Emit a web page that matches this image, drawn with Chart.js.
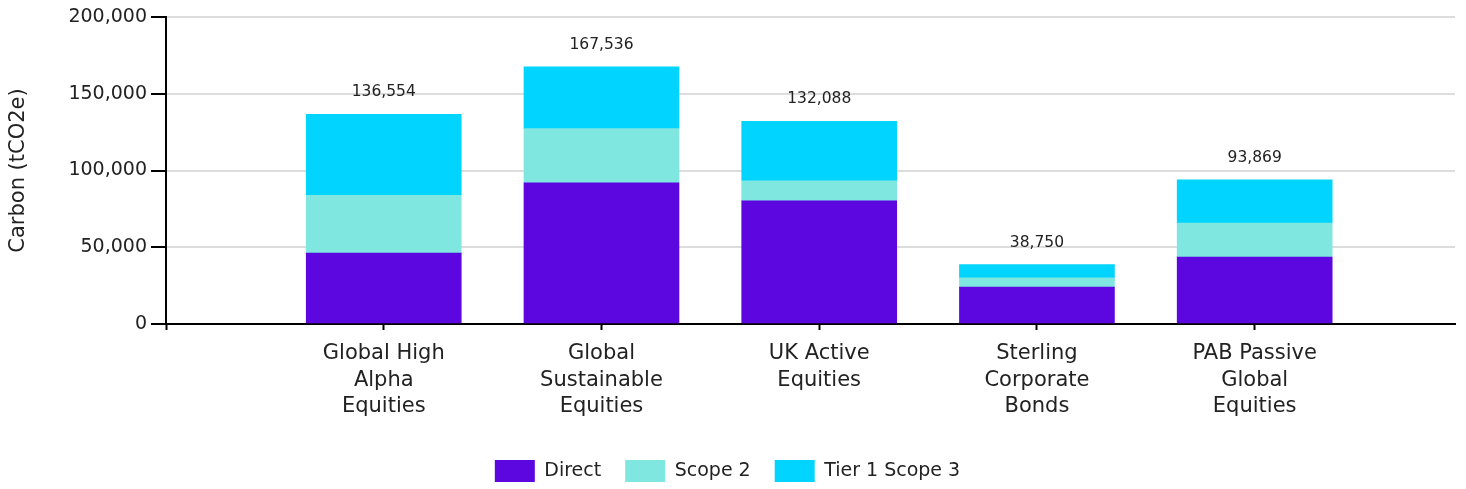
<!DOCTYPE html>
<html>
<head>
<meta charset="utf-8">
<script src="https://cdn.jsdelivr.net/npm/chart.js@4.4.1/dist/chart.umd.min.js"></script>
<style>
  html, body { margin: 0; padding: 0; background: #fff; }
  #wrap { width: 1466px; height: 489px; }
</style>
</head>
<body>
<div id="wrap"><canvas id="carbonChart"></canvas></div>
<script>
// Carbon footprint per fund, stacked by scope

var funds = [
    ["Global High", "Alpha", "Equities"],
    ["Global", "Sustainable", "Equities"],
    ["UK Active", "Equities"],
    ["Sterling", "Corporate", "Bonds"],
    ["PAB Passive", "Global", "Equities"]
];
var direct = [46200, 92000, 80200, 24000, 43600];
var scope2 = [37700, 35300, 13100, 6100, 22200];
var tier1Scope3 = [52654, 40236, 38788, 8650, 28069];
var yTicks = [0, 50000, 100000, 150000, 200000];

var fontFamily = "'DejaVu Sans', sans-serif";
Chart.defaults.font.family = fontFamily;
Chart.defaults.color = "#222";

function toPoints(arr) {
    return arr.map(function (v, i) { return { x: i, y: v }; });
}

// totals written above each stack
var totalsPlugin = {
    id: "totals",
    afterDatasetsDraw: function (chart) {
        var ctx = chart.ctx;
        var meta = chart.getDatasetMeta(chart.data.datasets.length - 1);
        ctx.save();
        ctx.font = "15.5px " + fontFamily;
        ctx.fillStyle = "#222";
        ctx.textAlign = "center";
        ctx.textBaseline = "middle";
        for (var i = 0; i < funds.length; i++) {
            var total = direct[i] + scope2[i] + tier1Scope3[i];
            var bar = meta.data[i];
            ctx.fillText(total.toLocaleString("en-GB"), bar.x, bar.y - 22);
        }
        ctx.restore();
    }
};

new Chart("carbonChart", {
    type: "bar",
    data: {
        datasets: [{
            label: "Direct",
            backgroundColor: "#5c06e0",
            data: toPoints(direct)
        }, {
            label: "Scope 2",
            backgroundColor: "#7fe6e0",
            data: toPoints(scope2)
        }, {
            label: "Tier 1 Scope 3",
            backgroundColor: "#00d4ff",
            data: toPoints(tier1Scope3)
        }]
    },
    options: {
        responsive: true,
        maintainAspectRatio: false,
        animation: false,
        barThickness: 155,
        layout: { padding: { top: 17, right: 11, bottom: 1, left: 0 } },
        scales: {
            x: {
                type: "linear",
                stacked: true,
                offset: false,
                min: -1,
                max: 4.92,
                afterBuildTicks: function (scale) {
                    scale.ticks = [-1, 0, 1, 2, 3, 4].map(function (v) { return { value: v }; });
                },
                afterFit: function (scale) { scale.height = 112; },
                ticks: {
                    autoSkip: false,
                    maxRotation: 0,
                    padding: 11,
                    color: "#222",
                    font: { size: 21, lineHeight: 1.24 },
                    callback: function (value) {
                        return funds[value] || "";
                    }
                },
                grid: {
                    offset: false,
                    drawOnChartArea: false,
                    tickLength: 6,
                    tickColor: "#000",
                    tickWidth: 2
                },
                border: { color: "#000", width: 2 }
            },
            y: {
                stacked: true,
                min: 0,
                max: 200000,
                afterBuildTicks: function (scale) {
                    scale.ticks = yTicks.map(function (v) { return { value: v }; });
                },
                afterFit: function (scale) { scale.width = 166; },
                title: {
                    display: true,
                    text: "Carbon (tCO2e)",
                    color: "#222",
                    font: { size: 21 },
                    padding: { top: 6, bottom: 4 }
                },
                ticks: {
                    color: "#222",
                    padding: 4,
                    font: { size: 19 },
                    callback: function (value) { return value.toLocaleString("en-GB"); }
                },
                grid: {
                    color: "#dddddd",
                    lineWidth: 2,
                    tickLength: 15,
                    tickColor: "#000",
                    tickWidth: 2
                },
                border: { color: "#000", width: 2 }
            }
        },
        plugins: {
            legend: {
                position: "bottom",
                maxHeight: 52,
                labels: {
                    boxWidth: 40,
                    boxHeight: 22,
                    padding: 24,
                    color: "#222",
                    font: { size: 19 }
                }
            },
            tooltip: { enabled: false }
        }
    },
    plugins: [totalsPlugin]
});
</script>
</body>
</html>
